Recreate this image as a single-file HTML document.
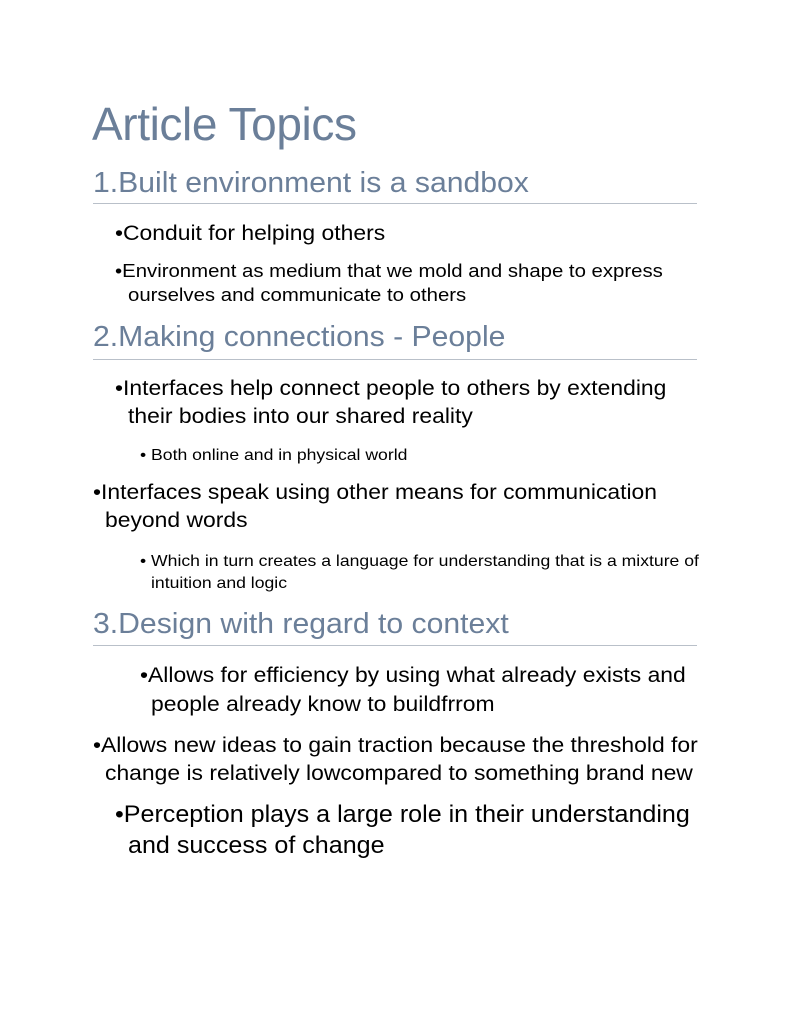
<!DOCTYPE html>
<html><head><meta charset="utf-8"><style>
body{margin:0;background:#fff;width:791px;height:1024px;overflow:hidden;position:relative;font-family:"Liberation Sans",sans-serif;}
div{position:absolute;white-space:nowrap;line-height:1;transform-origin:0 0;}
.h{color:#6b7f99;font-size:29px;transform:scaleX(1.04);}
.rule{height:1px;background:#b9c0c9;left:93px;width:604px;transform:none;}
.b{color:#000;transform:scaleX(1.09);}
.s{transform:scaleX(1.10);}
.p{transform:scaleX(1.045);}
</style></head><body>
<div style="left:92px;top:101px;font-size:46px;color:#6b7f99;letter-spacing:-0.4px">Article Topics</div>

<div class="h" style="left:93px;top:169px">1.Built environment is a sandbox</div>
<div class="rule" style="top:203px"></div>
<div class="b" style="left:115px;top:223px;font-size:21px">•Conduit for helping others</div>
<div class="b s" style="left:115px;top:262px;font-size:18.5px">•Environment as medium that we mold and shape to express</div>
<div class="b s" style="left:128px;top:286px;font-size:18.5px">ourselves and communicate to others</div>

<div class="h" style="left:93px;top:323px">2.Making connections - People</div>
<div class="rule" style="top:359px"></div>
<div class="b" style="left:115px;top:378px;font-size:21px">•Interfaces help connect people to others by extending</div>
<div class="b" style="left:128px;top:406px;font-size:21px">their bodies into our shared reality</div>
<div class="b s" style="left:140px;top:448px;font-size:16px">• Both online and in physical world</div>
<div class="b" style="left:93px;top:482px;font-size:21px">•Interfaces speak using other means for communication</div>
<div class="b" style="left:105px;top:510px;font-size:21px">beyond words</div>
<div class="b s" style="left:140px;top:554px;font-size:16px">• Which in turn creates a language for understanding that is a mixture of</div>
<div class="b s" style="left:151px;top:576px;font-size:16px">intuition and logic</div>

<div class="h" style="left:93px;top:610px">3.Design with regard to context</div>
<div class="rule" style="top:645px"></div>
<div class="b" style="left:140px;top:665px;font-size:21px">•Allows for efficiency by using what already exists and</div>
<div class="b" style="left:151px;top:694px;font-size:21px">people already know to buildfrrom</div>
<div class="b" style="left:93px;top:735px;font-size:21px">•Allows new ideas to gain traction because the threshold for</div>
<div class="b" style="left:105px;top:763px;font-size:21px">change is relatively lowcompared to something brand new</div>
<div class="b p" style="left:115px;top:803px;font-size:24px">•Perception plays a large role in their understanding</div>
<div class="b p" style="left:128px;top:834px;font-size:24px">and success of change</div>
</body></html>
